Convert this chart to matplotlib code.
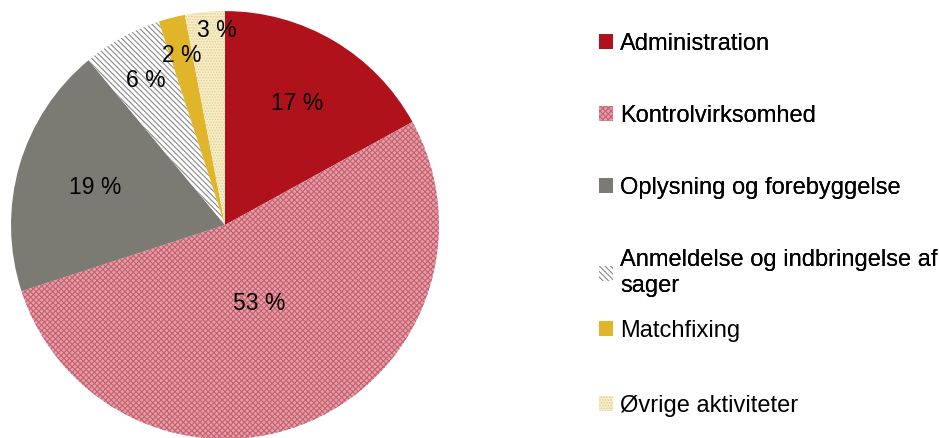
import numpy as np
import matplotlib.pyplot as plt

plt.rcParams['font.family'] = ['Liberation Sans', 'DejaVu Sans']
plt.rcParams['hatch.linewidth'] = 0.8

categories = ['Administration', 'Kontrolvirksomhed', 'Oplysning og forebyggelse',
              'Anmeldelse og indbringelse af\nsager', 'Matchfixing', 'Øvrige aktiviteter']
shares = [17, 53, 19, 6, 2, 3]

# look of each slice
colors = ['#b0121c', '#e3a0aa', '#7b7b73', '#ffffff', '#e1b52a', '#f7eecb']
hatch_colors = ['#b0121c', '#c8606e', '#7b7b73', '#8a8a8a', '#e1b52a', '#e2cf8e']
hatches = [None, 'xxxxxx', None, '\\\\\\\\\\\\', None, '......']
label_dist = [0.66, 0.40, 0.63, 0.77, 0.82, 0.91]
label_shift = [0, 0, 0, 0, 0, -3]  # degrees, nudges the tiny slice label

fig = plt.figure(figsize=(9.39, 4.38), dpi=100)
ax = fig.add_axes([0.0117, -0.0023, 0.4558, 0.977])

wedges, _ = ax.pie(shares, colors=colors, startangle=90, counterclock=False,
                   radius=1.0, wedgeprops=dict(linewidth=0))
for w, hc, h in zip(wedges, hatch_colors, hatches):
    w.set_edgecolor(hc)
    if h:
        w.set_hatch(h)

# percentage labels
for w, s, d, sh in zip(wedges, shares, label_dist, label_shift):
    ang = np.deg2rad((w.theta1 + w.theta2) / 2 + sh)
    ax.text(d * np.cos(ang), d * np.sin(ang), f'{s} %', ha='center', va='center',
            fontsize=16.5, color='black')

ax.set_xlim(-1, 1)
ax.set_ylim(-1, 1)
ax.set_aspect('equal')
ax.axis('off')

leg_kw = dict(loc='upper left', frameon=False, fontsize=17, handlelength=0.6,
              handleheight=0.6, handletextpad=0.3, borderaxespad=0)
leg1 = fig.legend(wedges[:4], categories[:4], bbox_to_anchor=(0.628, 0.946),
                  labelspacing=2.12, **leg_kw)
fig.add_artist(leg1)
fig.legend(wedges[4:], categories[4:], bbox_to_anchor=(0.628, 0.292),
           labelspacing=2.25, **leg_kw)

fig.savefig('out.png', dpi=100)
